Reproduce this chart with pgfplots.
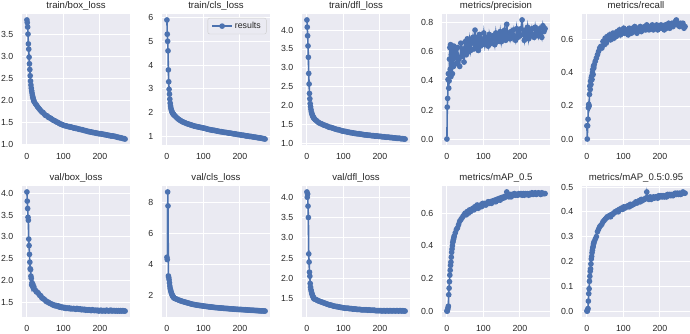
\documentclass[border=0pt]{standalone}
\usepackage{pgfplots}
\pgfplotsset{compat=1.18}
\usepackage{pgfplotstable}
\usepackage{fontspec}
\setmainfont{Liberation Sans}

\definecolor{sbbg}{HTML}{EAEAF2}
\definecolor{sbblue}{HTML}{4C72B0}
\definecolor{sbtext}{HTML}{262626}
\definecolor{sbedge}{HTML}{CCCCCC}

% Training log: one row per logged epoch
\pgfplotstableread{
ep  tbox tcls tdfl prec rec vbox vcls vdfl mapa mapb
0   3.82 5.90 4.27 0.00 0.08 4.03 4.45 4.13 0.000 0.000
1   3.76 5.30 4.08 0.22 0.00 3.82 4.30 4.00 0.000 0.000
2   3.66 5.00 3.85 0.28 0.08 3.65 8.65 4.08 0.010 0.005
3   3.50 4.60 3.58 0.41 0.12 3.45 7.75 3.78 0.020 0.010
4   3.28 3.80 3.28 0.45 0.19 3.38 3.25 3.50 0.030 0.040
5   3.16 3.30 2.85 0.35 0.21 2.95 3.15 2.60 0.100 0.070
6   2.98 2.98 2.57 0.40 0.20 2.80 3.00 2.40 0.140 0.090
7   2.83 2.78 2.32 0.55 0.27 2.60 2.80 2.15 0.180 0.120
8   2.70 2.57 2.18 0.63 0.32 2.42 2.60 2.05 0.220 0.140
9   2.56 2.40 2.05 0.48 0.30 2.27 2.45 1.87 0.250 0.160
10  2.44 2.28 1.97 0.65 0.35 2.25 2.35 1.78 0.280 0.170
11  2.35 2.19 1.90 0.43 0.33 2.10 2.25 1.72 0.300 0.190
12  2.28 2.12 1.84 0.58 0.37 2.05 2.17 1.68 0.330 0.210
13  2.22 2.07 1.80 0.52 0.38 1.90 2.10 1.64 0.360 0.220
14  2.17 2.03 1.77 0.60 0.36 1.95 2.04 1.61 0.380 0.235
15  2.12 2.00 1.74 0.45 0.40 1.88 1.99 1.58 0.400 0.245
16  2.08 1.97 1.72 0.62 0.42 1.92 1.95 1.56 0.420 0.255
17  2.05 1.95 1.70 0.55 0.39 1.85 1.91 1.54 0.430 0.260
18  2.02 1.93 1.68 0.50 0.44 1.82 1.88 1.52 0.440 0.270
19  1.99 1.91 1.67 0.64 0.43 1.86 1.85 1.50 0.450 0.275
20  1.97 1.89 1.65 0.57 0.45 1.80 1.82 1.49 0.460 0.280
23  1.93 1.85 1.62 0.61 0.47 1.78 1.79 1.48 0.480 0.290
26  1.90 1.80 1.60 0.52 0.49 1.74 1.76 1.47 0.500 0.300
29  1.86 1.76 1.57 0.63 0.51 1.73 1.73 1.45 0.510 0.320
32  1.83 1.72 1.55 0.55 0.53 1.70 1.70 1.44 0.530 0.330
35  1.80 1.69 1.53 0.50 0.55 1.66 1.67 1.43 0.550 0.340
38  1.77 1.66 1.52 0.66 0.56 1.65 1.65 1.42 0.560 0.345
41  1.74 1.63 1.51 0.57 0.55 1.60 1.62 1.41 0.570 0.350
44  1.73 1.61 1.49 0.62 0.59 1.59 1.60 1.40 0.580 0.360
47  1.70 1.59 1.48 0.53 0.57 1.57 1.58 1.39 0.590 0.365
50  1.67 1.57 1.47 0.67 0.61 1.55 1.56 1.38 0.600 0.370
53  1.66 1.55 1.46 0.58 0.58 1.52 1.54 1.37 0.590 0.375
56  1.65 1.53 1.45 0.69 0.62 1.51 1.52 1.36 0.610 0.380
59  1.62 1.52 1.43 0.60 0.60 1.50 1.50 1.35 0.600 0.380
62  1.61 1.50 1.42 0.68 0.63 1.48 1.48 1.34 0.620 0.385
65  1.60 1.49 1.42 0.61 0.60 1.47 1.46 1.34 0.610 0.380
68  1.58 1.47 1.41 0.66 0.62 1.46 1.44 1.33 0.620 0.390
71  1.56 1.46 1.40 0.70 0.64 1.44 1.42 1.32 0.630 0.390
74  1.55 1.44 1.39 0.62 0.61 1.44 1.41 1.31 0.620 0.395
77  1.54 1.43 1.38 0.75 0.64 1.42 1.40 1.31 0.640 0.400
80  1.52 1.42 1.37 0.63 0.62 1.43 1.38 1.30 0.630 0.400
83  1.51 1.41 1.36 0.70 0.65 1.41 1.37 1.30 0.650 0.405
86  1.50 1.40 1.36 0.61 0.63 1.42 1.36 1.29 0.630 0.400
89  1.48 1.39 1.35 0.72 0.66 1.39 1.35 1.29 0.645 0.410
92  1.47 1.38 1.34 0.64 0.63 1.40 1.34 1.28 0.650 0.410
95  1.46 1.37 1.33 0.69 0.66 1.38 1.33 1.28 0.640 0.415
98  1.45 1.36 1.32 0.66 0.64 1.39 1.32 1.27 0.660 0.410
101 1.44 1.35 1.32 0.73 0.67 1.37 1.31 1.27 0.650 0.420
104 1.43 1.34 1.31 0.65 0.64 1.38 1.30 1.26 0.660 0.415
107 1.43 1.33 1.31 0.70 0.66 1.36 1.29 1.26 0.650 0.420
110 1.42 1.31 1.30 0.67 0.65 1.37 1.28 1.26 0.660 0.420
113 1.41 1.30 1.29 0.64 0.63 1.36 1.27 1.26 0.670 0.425
116 1.41 1.29 1.29 0.72 0.67 1.37 1.26 1.25 0.660 0.420
119 1.40 1.28 1.28 0.68 0.66 1.35 1.25 1.25 0.670 0.430
122 1.40 1.27 1.28 0.66 0.64 1.36 1.25 1.25 0.660 0.425
125 1.39 1.26 1.27 0.71 0.67 1.35 1.24 1.24 0.675 0.430
128 1.38 1.26 1.27 0.69 0.65 1.36 1.23 1.24 0.670 0.430
131 1.38 1.25 1.26 0.65 0.68 1.35 1.22 1.24 0.680 0.435
134 1.37 1.24 1.26 0.73 0.66 1.34 1.21 1.24 0.670 0.440
137 1.37 1.23 1.25 0.67 0.64 1.36 1.21 1.23 0.685 0.435
140 1.36 1.22 1.25 0.71 0.67 1.35 1.20 1.23 0.680 0.440
143 1.35 1.21 1.25 0.68 0.66 1.34 1.19 1.23 0.690 0.445
146 1.35 1.20 1.24 0.74 0.68 1.35 1.19 1.23 0.680 0.440
149 1.34 1.20 1.24 0.67 0.65 1.33 1.18 1.22 0.695 0.450
152 1.34 1.19 1.23 0.72 0.67 1.34 1.18 1.22 0.690 0.445
155 1.33 1.18 1.23 0.69 0.66 1.33 1.17 1.22 0.700 0.450
158 1.32 1.17 1.22 0.75 0.68 1.34 1.16 1.22 0.695 0.450
161 1.32 1.17 1.22 0.68 0.66 1.32 1.16 1.22 0.705 0.455
164 1.31 1.16 1.22 0.79 0.69 1.33 1.15 1.22 0.730 0.480
167 1.30 1.15 1.21 0.70 0.67 1.32 1.15 1.21 0.710 0.455
170 1.30 1.14 1.21 0.73 0.66 1.33 1.14 1.22 0.700 0.450
173 1.29 1.14 1.21 0.69 0.68 1.32 1.13 1.21 0.715 0.460
176 1.29 1.13 1.20 0.74 0.67 1.31 1.13 1.21 0.700 0.450
179 1.28 1.12 1.20 0.70 0.69 1.33 1.12 1.21 0.715 0.455
182 1.28 1.11 1.20 0.75 0.66 1.32 1.12 1.21 0.710 0.460
185 1.27 1.11 1.19 0.71 0.68 1.31 1.11 1.21 0.720 0.455
188 1.27 1.10 1.19 0.68 0.67 1.32 1.11 1.20 0.710 0.460
191 1.26 1.09 1.19 0.76 0.69 1.31 1.10 1.20 0.715 0.460
194 1.26 1.08 1.19 0.70 0.66 1.32 1.10 1.20 0.710 0.455
197 1.25 1.08 1.18 0.74 0.68 1.30 1.09 1.20 0.720 0.465
200 1.25 1.07 1.18 0.71 0.67 1.31 1.09 1.20 0.715 0.460
203 1.25 1.06 1.18 0.76 0.69 1.32 1.09 1.20 0.720 0.465
206 1.24 1.05 1.17 0.82 0.67 1.30 1.08 1.19 0.710 0.460
209 1.24 1.05 1.17 0.72 0.68 1.31 1.08 1.20 0.720 0.465
212 1.23 1.04 1.17 0.68 0.66 1.31 1.07 1.20 0.710 0.460
215 1.23 1.03 1.16 0.75 0.69 1.30 1.07 1.19 0.720 0.465
218 1.22 1.02 1.16 0.71 0.67 1.32 1.06 1.20 0.715 0.460
221 1.22 1.02 1.16 0.77 0.68 1.31 1.06 1.20 0.720 0.470
224 1.21 1.01 1.16 0.69 0.70 1.30 1.05 1.19 0.710 0.465
227 1.21 1.00 1.15 0.74 0.67 1.31 1.05 1.20 0.720 0.470
230 1.20 1.00 1.15 0.71 0.69 1.32 1.04 1.20 0.715 0.465
233 1.20 0.99 1.15 0.76 0.70 1.30 1.04 1.19 0.725 0.470
236 1.20 0.98 1.14 0.72 0.68 1.31 1.04 1.20 0.715 0.465
239 1.19 0.97 1.14 0.70 0.70 1.31 1.03 1.20 0.720 0.470
242 1.19 0.97 1.14 0.77 0.71 1.30 1.03 1.19 0.725 0.475
245 1.18 0.96 1.13 0.72 0.72 1.31 1.02 1.20 0.715 0.470
248 1.17 0.95 1.13 0.75 0.69 1.30 1.02 1.20 0.720 0.475
251 1.17 0.94 1.13 0.71 0.70 1.31 1.01 1.19 0.725 0.470
254 1.16 0.94 1.13 0.76 0.68 1.30 1.01 1.20 0.720 0.475
257 1.16 0.93 1.12 0.73 0.70 1.31 1.00 1.20 0.715 0.470
260 1.15 0.92 1.12 0.70 0.69 1.30 1.00 1.19 0.725 0.475
263 1.14 0.91 1.12 0.78 0.70 1.31 1.00 1.20 0.720 0.480
266 1.14 0.90 1.11 0.74 0.67 1.30 0.99 1.19 0.720 0.475
269 1.13 0.89 1.11 0.76 0.68 1.30 0.99 1.19 0.720 0.475
}\results

\pgfplotsset{
  panel/.style={
    scale only axis, width=108bp, height=131bp,
    anchor=south west,
    axis background/.style={fill=sbbg},
    axis line style={draw=none},
    major tick length=0pt,
    grid=major, grid style={white, line width=0.9bp},
    xtick={0,100,200},
    enlargelimits=0.05,
    /pgf/number format/assume math mode=true,
    tick label style={font=\fontsize{8.8bp}{10bp}\selectfont, text=sbtext},
    xticklabel style={inner sep=0pt, anchor=north, yshift=-8.5bp},
    yticklabel style={inner sep=0pt, anchor=east, xshift=-8.5bp},
    every axis title/.style={font=\fontsize{9.6bp}{11bp}\selectfont,
      text=sbtext, inner sep=0pt, at={(0.5,1)}, anchor=base, yshift=5.5bp},
    every axis plot post/.append style={color=sbblue, line width=1.6bp,
      mark=*, mark size=2bp, mark options={solid, draw=none, fill=sbblue}},
  },
  onedec/.style={yticklabel style={/pgf/number format/.cd,
      fixed, fixed zerofill, precision=1}},
}

\begin{document}
\begin{tikzpicture}
\useasboundingbox (0,0) rectangle (690bp,334bp);

% ---- top row ----
\begin{axis}[panel, onedec, at={(22bp,189bp)}, title={train/box\_loss},
  ytick={1,1.5,2,2.5,3,3.5}]
\addplot table[x=ep,y=tbox]{\results};
\end{axis}

\begin{axis}[panel, at={(162bp,189bp)}, title={train/cls\_loss},
  ytick={1,2,3,4,5,6},
  legend style={at={(1,1)}, anchor=north east, xshift=-3.5bp, yshift=-4bp,
    fill=sbbg, draw=sbedge, rounded corners=2bp,
    font=\fontsize{8.8bp}{10bp}\selectfont, text=sbtext,
    inner xsep=3.5bp, inner ysep=2bp, cells={anchor=west}},
  legend image code/.code={\draw[mark repeat=2,mark phase=2,#1]
    plot coordinates {(0bp,0bp) (10bp,0bp) (20bp,0bp)};}]
\addplot table[x=ep,y=tcls]{\results};
\addlegendentry{results}
\end{axis}

\begin{axis}[panel, onedec, at={(302bp,189bp)}, title={train/dfl\_loss},
  ytick={1,1.5,2,2.5,3,3.5,4}]
\addplot table[x=ep,y=tdfl]{\results};
\end{axis}

\begin{axis}[panel, onedec, at={(442bp,189bp)}, title={metrics/precision},
  ytick={0,0.2,0.4,0.6,0.8}]
\addplot table[x=ep,y=prec]{\results};
\end{axis}

\begin{axis}[panel, onedec, at={(582bp,189bp)}, title={metrics/recall},
  ytick={0,0.2,0.4,0.6}]
\addplot table[x=ep,y=rec]{\results};
\end{axis}

% ---- bottom row ----
\begin{axis}[panel, onedec, at={(22bp,17bp)}, title={val/box\_loss},
  ytick={1.5,2,2.5,3,3.5,4}]
\addplot table[x=ep,y=vbox]{\results};
\end{axis}

\begin{axis}[panel, at={(162bp,17bp)}, title={val/cls\_loss},
  ytick={2,4,6,8}]
\addplot table[x=ep,y=vcls]{\results};
\end{axis}

\begin{axis}[panel, onedec, at={(302bp,17bp)}, title={val/dfl\_loss},
  ytick={1.5,2,2.5,3,3.5,4}]
\addplot table[x=ep,y=vdfl]{\results};
\end{axis}

\begin{axis}[panel, onedec, at={(442bp,17bp)}, title={metrics/mAP\_0.5},
  ytick={0,0.2,0.4,0.6}]
\addplot table[x=ep,y=mapa]{\results};
\end{axis}

\begin{axis}[panel, onedec, at={(582bp,17bp)}, title={metrics/mAP\_0.5:0.95},
  ytick={0,0.1,0.2,0.3,0.4,0.5}]
\addplot table[x=ep,y=mapb]{\results};
\end{axis}

\end{tikzpicture}
\end{document}
